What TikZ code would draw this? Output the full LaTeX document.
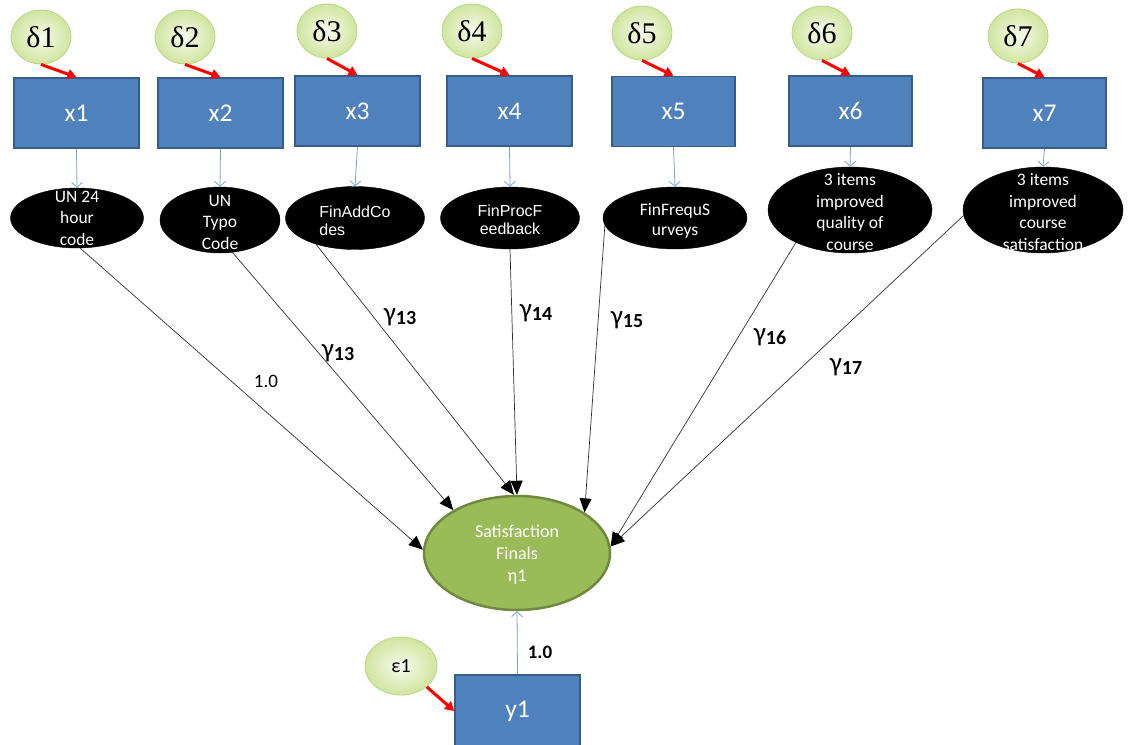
\documentclass[tikz,border=0pt]{standalone}
\usepackage{fontspec}
\setmainfont{Carlito}
\newfontfamily\arialf{Liberation Sans}
\newfontfamily\greekserif{Liberation Serif}
\usetikzlibrary{shapes.geometric,arrows.meta}
\definecolor{boxblue}{HTML}{4F81BD}
\definecolor{boxedge}{HTML}{385D8A}
\definecolor{etagreen}{HTML}{9BBB59}
\definecolor{etaedge}{HTML}{71893F}
\definecolor{errin}{HTML}{F7FBEC}
\definecolor{errout}{HTML}{D0E5A0}
\definecolor{erredge}{HTML}{BCD985}
\definecolor{linkblue}{HTML}{7AA2D4}
\definecolor{pathgray}{HTML}{303030}
\newcommand{\gcoef}[1]{γ\raisebox{-3.5pt}{\fontsize{20}{20}\selectfont\bfseries #1}}
\begin{document}
\begin{tikzpicture}[x=1pt,y=-1pt,
  errnode/.style={ellipse, inner sep=0pt, draw=erredge, line width=0.9pt,
    inner color=errin, outer color=errout},
  deltanode/.style={errnode, minimum width=60pt, minimum height=54pt,
    font=\greekserif\fontsize{30}{30}\selectfont},
  obs/.style={rectangle, fill=boxblue, draw=boxedge, line width=1.6pt,
    minimum height=70pt, inner sep=0pt, text=white,
    font=\fontsize{25.5}{25.5}\selectfont},
  itemnode/.style={ellipse, fill=black, draw=black, inner sep=0pt},
  itemtext/.style={text=white, align=center, inner sep=0pt,
    font=\fontsize{17.5}{21.5}\selectfont},
  arialtext/.style={text=white, inner sep=0pt,
    font=\arialf\fontsize{16}{18.5}\selectfont},
  errarrow/.style={draw=red, line width=3pt, -{Triangle[length=9pt,width=10pt]}},
  loadarrow/.style={draw=linkblue, line width=0.8pt, -{Straight Barb[length=5pt,width=11pt]}},
  patharrow/.style={draw=pathgray, line width=0.7pt, -{Triangle[length=14pt,width=12pt,color=black]}},
  coef/.style={inner sep=0pt, font=\fontsize{27}{27}\selectfont}
]
\useasboundingbox (0,0) rectangle (1134,744);

% error terms of the indicators
\node[deltanode] (d1) at (41,37) {δ1};
\node[deltanode] (d2) at (185,37) {δ2};
\node[deltanode] (d3) at (327,31) {δ3};
\node[deltanode] (d4) at (472,31) {δ4};
\node[deltanode] (d5) at (642,33) {δ5};
\node[deltanode] (d6) at (822,33) {δ6};
\node[deltanode] (d7) at (1018,36) {δ7};

% observed indicators
\node[obs, minimum width=125pt] (x1) at (76.5,113) {x1};
\node[obs, minimum width=125pt] (x2) at (220.5,113) {x2};
\node[obs, minimum width=125pt] (x3) at (357.5,111) {x3};
\node[obs, minimum width=125pt] (x4) at (509.5,111) {x4};
\node[obs, minimum width=123pt] (x5) at (673.5,111.5) {x5};
\node[obs, minimum width=123pt] (x6) at (850.5,111) {x6};
\node[obs, minimum width=123pt] (x7) at (1044.5,113) {x7};

% item ellipses
\node[itemnode, minimum width=133pt, minimum height=60pt] (e1) at (77,218) {};
\node[itemnode, minimum width=120pt, minimum height=66pt] (e2) at (220,220) {};
\node[itemnode, minimum width=139pt, minimum height=63pt] (e3) at (355,218) {};
\node[itemnode, minimum width=139pt, minimum height=62pt] (e4) at (510,218) {};
\node[itemnode, minimum width=144pt, minimum height=62pt] (e5) at (675,218) {};
\node[itemnode, minimum width=164pt, minimum height=86pt] (e6) at (850,210) {};
\node[itemnode, minimum width=160pt, minimum height=86pt] (e7) at (1043,210) {};

\node[itemtext] (t1) at (77,218) {UN 24\\hour\\code};
\node[itemtext] (t2) at (220,222) {UN\\Typo\\Code};
\node[arialtext, align=left] (t3) at (355,221) {FinAddCo\\des};
\node[arialtext, align=center] (t4) at (510,220) {FinProcF\\eedback};
\node[itemtext, font=\fontsize{17.5}{19.5}\selectfont] (t5) at (675,221) {FinFrequS\\urveys};
\node[itemtext] (t6) at (850,212) {3 items\\improved\\quality of\\course};
\node[itemtext] (t7) at (1043,212) {3 items\\improved\\course\\satisfaction};

% latent outcome
\node[ellipse, fill=etagreen, draw=etaedge, line width=2.5pt, inner sep=0pt,
      minimum width=186pt, minimum height=114pt] (eta) at (517,553) {};
\node[itemtext, font=\fontsize{18}{22}\selectfont] (etatext) at (517,555) {Satisfaction\\Finals\\η1};

% outcome indicator and its error
\node[obs, minimum width=125pt, minimum height=72pt] (y1) at (517.5,711) {y1};
\node[errnode, minimum width=72pt, minimum height=58pt,
      font=\fontsize{20}{20}\selectfont] (eps) at (401,666) {ε1};

% error arrows
\foreach \i in {1,...,7} {
  \draw[errarrow] (d\i.south) -- (x\i.north);
}
\draw[errarrow] (eps.-39) -- (y1.west);

% indicator to item arrows
\foreach \i in {1,...,7} {
  \draw[loadarrow] (x\i.south) -- (e\i.north);
}
\draw[loadarrow] (y1.north) -- (eta.south);

% structural paths
\draw[patharrow] (e1.-84) -- (eta.178);
\draw[patharrow] (e2.-69) -- (eta.146);
\draw[patharrow] (e3.214) -- (eta.93);
\draw[patharrow] (e4.south) -- (eta.90);
\draw[patharrow] (e5.186) -- (eta.31);
\draw[patharrow] (e6.211) -- (eta.4);
\draw[patharrow] (e7.184) -- (eta.4);

% path coefficients
\node[inner sep=0pt, font=\fontsize{19}{19}\selectfont] (c1) at (266,381) {1.0};
\node[coef] (c2) at (338,353) {\gcoef{13}};
\node[coef] (c3) at (400,317) {\gcoef{13}};
\node[coef] (c4) at (536,313) {\gcoef{14}};
\node[coef] (c5) at (627,320) {\gcoef{15}};
\node[coef] (c6) at (770,337) {\gcoef{16}};
\node[coef] (c7) at (846,367) {\gcoef{17}};
\node[inner sep=0pt, font=\fontsize{19}{19}\selectfont\bfseries] (cy) at (540,652) {1.0};
\end{tikzpicture}
\end{document}
